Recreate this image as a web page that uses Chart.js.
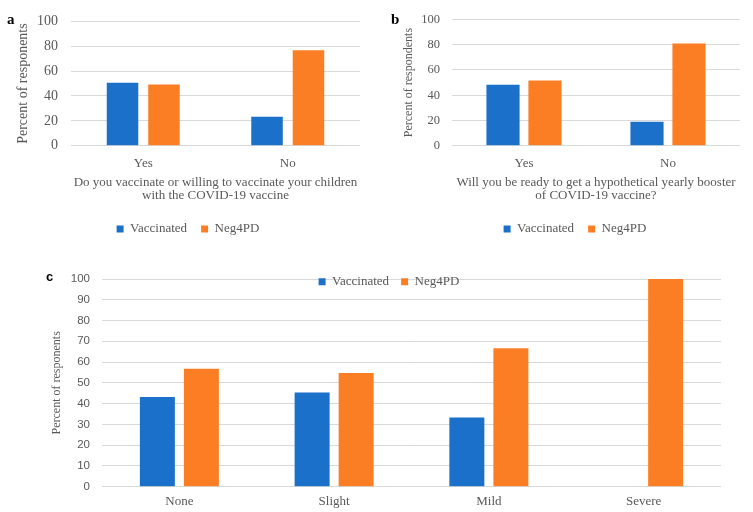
<!DOCTYPE html>
<html><head><meta charset="utf-8">
<script src="https://cdn.jsdelivr.net/npm/chart.js@4/dist/chart.umd.min.js"></script>
<style>
html,body{margin:0;padding:0;background:#fff}
body{width:753px;height:512px;position:relative;overflow:hidden}
.box{position:absolute}
.lbl{position:absolute;font-weight:bold;color:#000;line-height:1}
</style></head><body>
<div class="box" style="left:0;top:0;width:380px;height:250px"><canvas id="ca"></canvas></div>
<div class="box" style="left:380px;top:0;width:373px;height:250px"><canvas id="cb"></canvas></div>
<div class="box" style="left:0;top:255px;width:753px;height:257px"><canvas id="cc"></canvas></div>
<div class="lbl" style="left:7px;top:12px;font-family:'Liberation Serif';font-size:15px">a</div>
<div class="lbl" style="left:391px;top:12px;font-family:'Liberation Serif';font-size:15px">b</div>
<div class="lbl" style="left:46px;top:270px;font-family:'Liberation Sans';font-size:13px">c</div>
<script>
const seriesNames = ['Vaccinated', 'Neg4PD'];
const catsA = ['Yes', 'No'];
const vaccA = [50.7, 23.3];
const negA = [49.3, 76.7];
const catsB = ['Yes', 'No'];
const vaccB = [48.3, 19];
const negB = [51.7, 81];
const catsC = ['None', 'Slight', 'Mild', 'Severe'];
const vaccC = [43.2, 45.3, 33.3, 0];
const negC = [56.8, 54.7, 66.7, 100];
const yTicksAB = [0, 20, 40, 60, 80, 100];
const yTicksC = [0, 10, 20, 30, 40, 50, 60, 70, 80, 90, 100];
const xTitleA = ['Do you vaccinate or willing to vaccinate your children', 'with the COVID-19 vaccine'];
const xTitleB = ['Will you be ready to get a hypothetical yearly booster', 'of COVID-19 vaccine?'];
const yTitleA = 'Percent of responents';
const yTitleB = 'Percent of respondents';
const yTitleC = 'Percent of responents';

const BLUE = '#1b70c9', ORANGE = '#fb7e24', GREY = '#595959', GRID = '#d9d9d9';
const SERIF = "'Liberation Serif', 'Times New Roman', serif";
const SANS = "'Liberation Sans', Arial, sans-serif";

// lets the legend of panel c overlap the top of its plot area without being clipped
const legendOverlap = {
  id: 'legendOverlap',
  afterLayout(chart) {
    const lg = chart.legend;
    if (lg) { lg.height = 40; lg.bottom = lg.top + 40; }
  }
};

function makeChart(id, cats, v1, v2, o) {
  return new Chart(document.getElementById(id), {
    type: 'bar',
    data: {
      labels: cats,
      datasets: [
        {label: seriesNames[0], data: v1, backgroundColor: BLUE, categoryPercentage: o.cat, barPercentage: o.bar},
        {label: seriesNames[1], data: v2, backgroundColor: ORANGE, categoryPercentage: o.cat, barPercentage: o.bar}
      ]
    },
    plugins: o.plugins || [],
    options: {
      responsive: true, maintainAspectRatio: false, animation: false,
      layout: {padding: o.pad},
      plugins: {
        tooltip: {enabled: false},
        legend: {
          position: o.legendPos,
          maxHeight: o.legendMaxH,
          labels: {boxWidth: 7, boxHeight: 7, padding: o.legendPad, color: GREY,
                   font: {family: SERIF, size: 13}}
        }
      },
      scales: {
        x: {
          grid: {display: false, drawTicks: false},
          border: {display: false},
          ticks: {color: GREY, font: {family: SERIF, size: o.xTickSize}, padding: o.xTickPad, maxRotation: 0},
          title: o.xTitle ? {display: true, text: o.xTitle, color: GREY,
                   font: {family: SERIF, size: 13, lineHeight: 0.98}, padding: {top: 0, bottom: o.xTitlePadB}} : {display: false},
          afterFit: s => { s.height = o.xh; }
        },
        y: {
          min: 0, max: 100,
          afterBuildTicks: s => { s.ticks = o.yTicks.map(v => ({value: v})); },
          grid: {color: GRID, lineWidth: 1, drawTicks: false},
          border: {display: false},
          ticks: {color: GREY, font: {family: o.yTickFamily, size: o.yTickSize}, padding: o.yTickPad},
          title: {display: true, text: o.yTitle, color: GREY,
                  font: {family: SERIF, size: o.yTitleSize}, padding: {top: o.yTitlePad, bottom: 0}},
          afterFit: s => { s.width = o.yw; }
        }
      }
    }
  });
}

makeChart('ca', catsA, vaccA, negA, {
  cat: 0.574, bar: 0.76,
  pad: {left: 16, right: 20, top: 19, bottom: 4.5},
  legendPos: 'bottom', legendMaxH: undefined, legendPad: 14,
  xTickSize: 13, xTickPad: 10, xTitle: xTitleA, xTitlePadB: 6.5, xh: 62.8,
  yTicks: yTicksAB, yTickFamily: SERIF, yTickSize: 14, yTickPad: 13,
  yTitle: yTitleA, yTitleSize: 14, yTitlePad: -1.4, yw: 55
});

makeChart('cb', catsB, vaccB, negB, {
  cat: 0.583, bar: 0.79,
  pad: {left: 30, right: 13, top: 19, bottom: 4.5},
  legendPos: 'bottom', legendMaxH: undefined, legendPad: 14,
  xTickSize: 13, xTickPad: 10, xTitle: xTitleB, xTitlePadB: 6.5, xh: 62.8,
  yTicks: yTicksAB, yTickFamily: SERIF, yTickSize: 12.5, yTickPad: 12,
  yTitle: yTitleB, yTitleSize: 12, yTitlePad: -8.2, yw: 42
});

makeChart('cc', catsC, vaccC, negC, {
  cat: 0.569, bar: 0.795,
  pad: {left: 57, right: 32, top: 8.2, bottom: 0},
  legendPos: 'top', legendMaxH: 15.8, legendPad: 12,
  xTickSize: 13, xTickPad: 7.5, xTitle: null, xTitlePadB: 0, xh: 25.3,
  yTicks: yTicksC, yTickFamily: SANS, yTickSize: 11.5, yTickPad: 12,
  yTitle: yTitleC, yTitleSize: 12, yTitlePad: -7.2, yw: 45,
  plugins: [legendOverlap]
});
</script>
</body></html>
